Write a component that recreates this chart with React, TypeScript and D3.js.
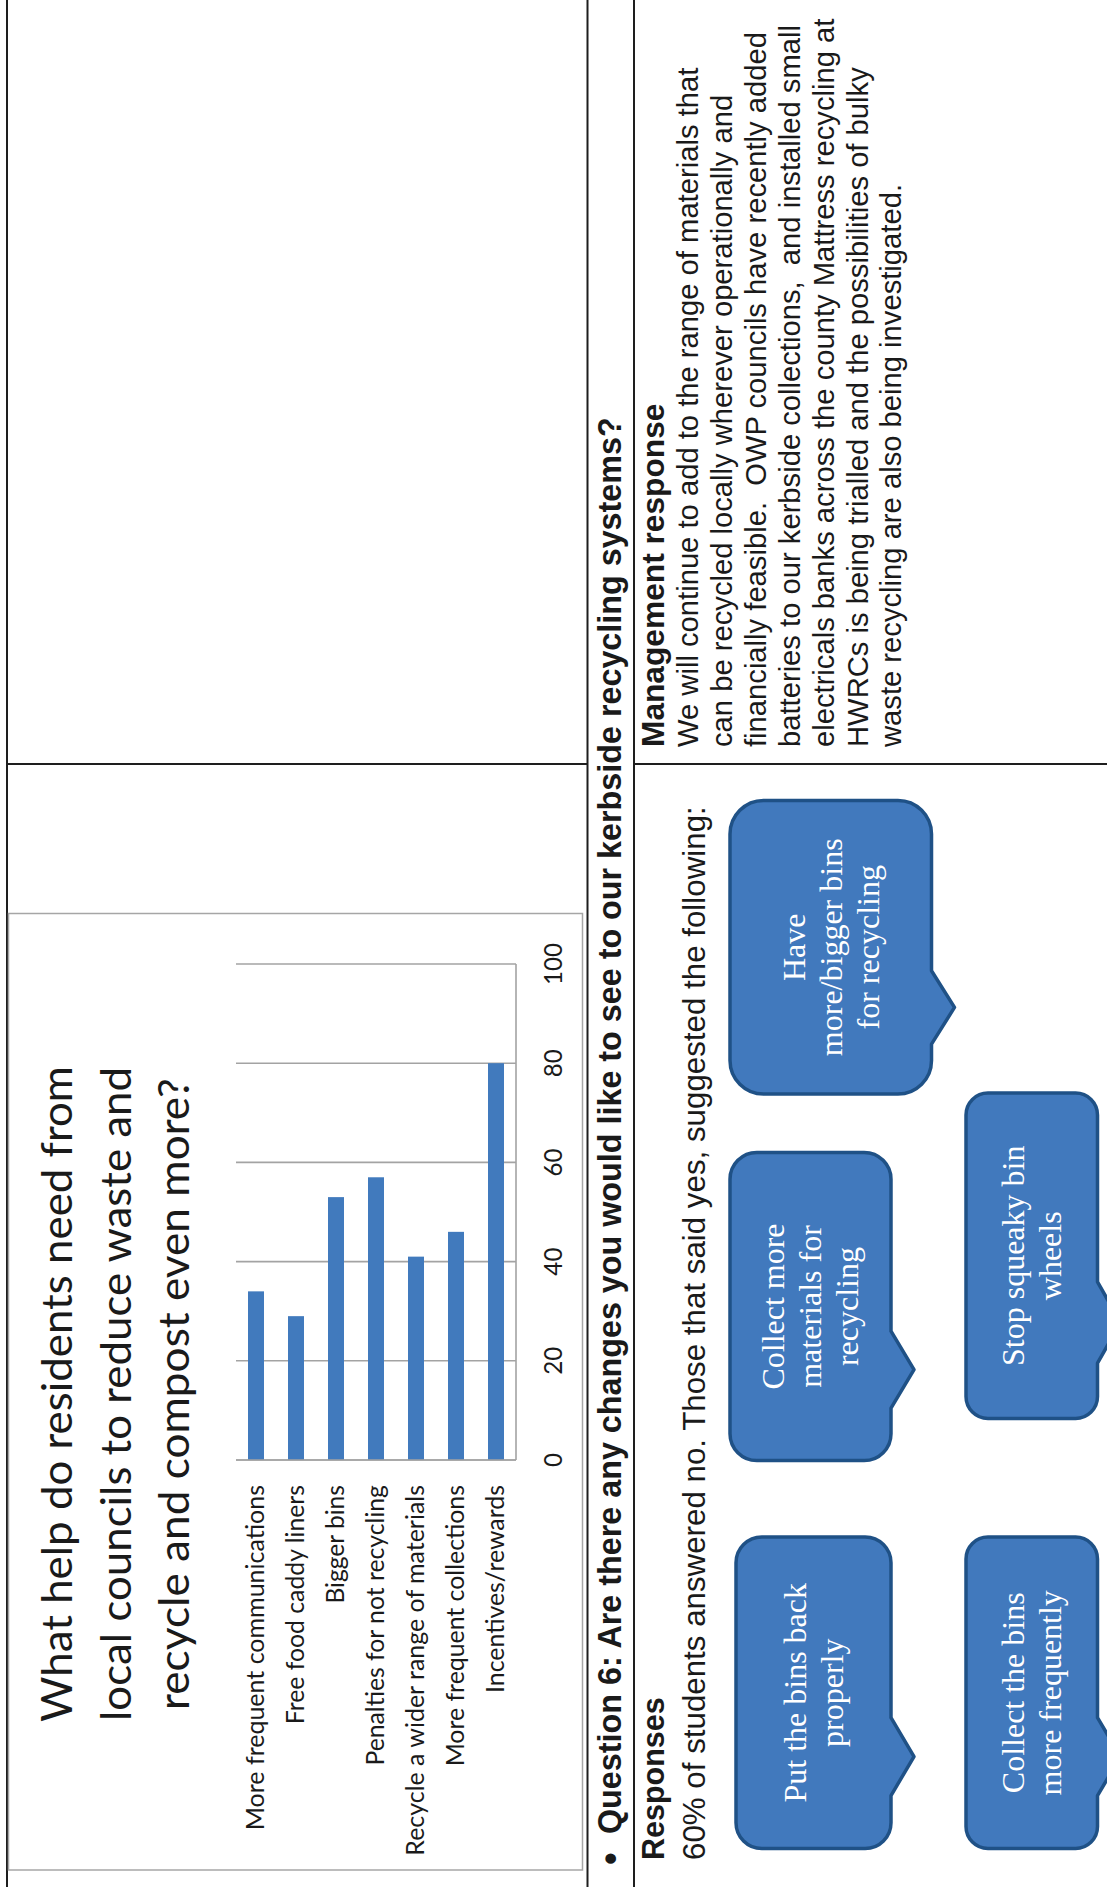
import React from "react";
import * as d3 from "d3";

// ---------- data ----------
const categories = [
  "More frequent communications",
  "Free food caddy liners",
  "Bigger bins",
  "Penalties for not recycling",
  "Recycle a wider range of materials",
  "More frequent collections",
  "Incentives/rewards",
];
const values = [34, 29, 53, 57, 41, 46, 80];
const valueTicks = [0, 20, 40, 60, 80, 100];
const titleLines = [
  "What help do residents need from",
  "local councils to reduce waste and",
  "recycle and compost even more?",
];
const questionText =
  "Question 6: Are there any changes you would like to see to our kerbside recycling systems?";
const responsesHeading = "Responses";
const responsesIntro =
  "60% of students answered no. Those that said yes, suggested the following:";
const managementHeading = "Management response";
const managementLines = [
  "We will continue to add to the range of materials that",
  "can be recycled locally wherever operationally and",
  "financially feasible.  OWP councils have recently added",
  "batteries to our kerbside collections,  and installed small",
  "electricals banks across the county Mattress recycling at",
  "HWRCs is being trialled and the possibilities of bulky",
  "waste recycling are also being investigated.",
];
const bubbleTexts = [
  ["Have", "more/bigger bins", "for recycling"],
  ["Collect more", "materials for", "recycling"],
  ["Put the bins back", "properly"],
  ["Stop squeaky bin", "wheels"],
  ["Collect the bins", "more frequently"],
];

// ---------- layout (page drawn unrotated, then turned -90deg) ----------
const PW = 1887; // unrotated width
const PH = 1107; // unrotated height

const bubbleBoxes = [
  { u0: 793, u1: 1086.5, v0: 730, v1: 931.5 },
  { u0: 426.5, u1: 734.5, v0: 730, v1: 891 },
  { u0: 38.5, u1: 350, v0: 736, v1: 891 },
  { u0: 468.5, u1: 794, v0: 966, v1: 1097.5 },
  { u0: 38.5, u1: 350, v0: 966, v1: 1097.5 },
];

// approximate Calibri advance widths (per 1000 em) to size the substitute font
const CAL: Record<string, number> = {
  " ": 226, a: 479, b: 525, c: 423, d: 525, e: 498, f: 305, g: 471, h: 525, i: 229,
  j: 239, k: 455, l: 229, m: 799, n: 525, o: 527, p: 525, q: 525, r: 349, s: 391,
  t: 335, u: 525, v: 452, w: 715, x: 433, y: 453, z: 395, M: 855, F: 459, B: 544,
  P: 517, R: 543, I: 252, W: 890, "/": 386, "?": 463,
};
const calibriLen = (s: string, size: number) =>
  s.split("").reduce((acc, ch) => acc + (CAL[ch] ?? 500), 0) * size / 1000;

const chartFont = "Lato, 'Open Sans', sans-serif";
const docFont = "'Liberation Sans', Arial, sans-serif";
const serifFont = "'Liberation Serif', 'Times New Roman', serif";

function bubblePath(b: { u0: number; u1: number; v0: number; v1: number }) {
  const w = b.u1 - b.u0;
  const h = b.v1 - b.v0;
  const r = Math.min(w, h) * 0.16667;
  const ta = b.u0 + 0.17 * w;
  const tb = b.u0 + 0.42 * w;
  const tip = b.u0 + 0.295 * w;
  const out = 23;
  const p = d3.path();
  p.moveTo(b.u0 + r, b.v0);
  p.lineTo(b.u1 - r, b.v0);
  p.arcTo(b.u1, b.v0, b.u1, b.v0 + r, r);
  p.lineTo(b.u1, b.v1 - r);
  p.arcTo(b.u1, b.v1, b.u1 - r, b.v1, r);
  p.lineTo(tb, b.v1);
  p.lineTo(tip, b.v1 + out);
  p.lineTo(ta, b.v1);
  p.lineTo(b.u0 + r, b.v1);
  p.arcTo(b.u0, b.v1, b.u0, b.v1 - r, r);
  p.lineTo(b.u0, b.v0 + r);
  p.arcTo(b.u0, b.v0, b.u0 + r, b.v0, r);
  p.closePath();
  return p.toString();
}

export default function App() {
  // chart scales
  const x = d3.scaleLinear().domain([0, 100]).range([427, 923]);
  const y = d3
    .scaleBand<string>()
    .domain(categories)
    .range([236, 516])
    .paddingInner(0.6)
    .paddingOuter(0.3);
  const plotTop = 236;
  const plotBottom = 516;

  const lineColor = "#1e1e1e";
  const gridColor = "#a3a3a3";
  const barColor = "#417abd";

  const titleCalSize = 47;
  const labelCalSize = 26.6;

  return (
    <svg
      width={1107}
      height={1887}
      style={{ position: "absolute", left: 0, top: 0, display: "block" }}
    >
      <rect x={0} y={0} width={1107} height={1887} fill="#ffffff" />
      <g transform={`translate(0,${PW}) rotate(-90)`}>
        {/* table rules */}
        <line x1={0} x2={PW} y1={7} y2={7} stroke={lineColor} strokeWidth={2} />
        <line x1={0} x2={PW} y1={587.5} y2={587.5} stroke={lineColor} strokeWidth={2} />
        <line x1={0} x2={PW} y1={634} y2={634} stroke={lineColor} strokeWidth={2} />
        <line x1={1123} x2={1123} y1={7} y2={587.5} stroke={lineColor} strokeWidth={2} />
        <line x1={1123} x2={1123} y1={634} y2={PH} stroke={lineColor} strokeWidth={2} />

        {/* chart frame */}
        <rect x={17} y={8.5} width={956.5} height={574} fill="none" stroke="#a6a6a6" strokeWidth={1.5} />

        {/* title */}
        {titleLines.map((t, i) => (
          <text
            key={t}
            x={493}
            y={72 + i * 58.5}
            textAnchor="middle"
            fontFamily={chartFont}
            fontSize={42.6}
            fill="#1a1a1a"
            textLength={calibriLen(t, titleCalSize)}
            lengthAdjust="spacingAndGlyphs"
          >
            {t}
          </text>
        ))}

        {/* gridlines */}
        {valueTicks.map((t) => (
          <line
            key={"g" + t}
            x1={x(t)}
            x2={x(t)}
            y1={plotTop}
            y2={plotBottom}
            stroke={gridColor}
            strokeWidth={1.6}
          />
        ))}
        {/* value axis line */}
        <line x1={x(0)} x2={x(100)} y1={plotBottom} y2={plotBottom} stroke={gridColor} strokeWidth={1.6} />

        {/* bars */}
        {categories.map((c, i) => (
          <rect
            key={c}
            x={x(0)}
            y={y(c)}
            width={x(values[i]) - x(0)}
            height={y.bandwidth()}
            fill={barColor}
          />
        ))}
        {/* category axis line */}
        <line x1={x(0)} x2={x(0)} y1={plotTop} y2={plotBottom} stroke={gridColor} strokeWidth={1.6} />

        {/* value tick labels */}
        {valueTicks.map((t) => (
          <text
            key={"t" + t}
            x={x(t)}
            y={562}
            textAnchor="middle"
            fontFamily={chartFont}
            fontSize={24.2}
            fill="#1a1a1a"
          >
            {t}
          </text>
        ))}

        {/* category labels */}
        {categories.map((c) => (
          <text
            key={"l" + c}
            x={402}
            y={(y(c) as number) + y.bandwidth() / 2 + 7.5}
            textAnchor="end"
            fontFamily={chartFont}
            fontSize={24.2}
            fill="#1a1a1a"
            textLength={calibriLen(c, labelCalSize)}
            lengthAdjust="spacingAndGlyphs"
          >
            {c}
          </text>
        ))}

        {/* question row */}
        <text x={22} y={623} fontFamily={docFont} fontSize={36} fontWeight="bold" fill="#1a1a1a">
          •
        </text>
        <text
          x={53}
          y={621}
          fontFamily={docFont}
          fontSize={32.3}
          fontWeight="bold"
          fill="#1a1a1a"
          style={{ whiteSpace: "pre" }}
        >
          {questionText}
        </text>

        {/* responses cell */}
        <text x={27} y={663.5} fontFamily={docFont} fontSize={30.5} fontWeight="bold" fill="#1a1a1a">
          {responsesHeading}
        </text>
        <text x={27} y={705} fontFamily={docFont} fontSize={31.3} fill="#1a1a1a" style={{ whiteSpace: "pre" }}>
          {responsesIntro}
        </text>

        {/* management response cell */}
        <text x={1140} y={664} fontFamily={docFont} fontSize={31.7} fontWeight="bold" fill="#1a1a1a">
          {managementHeading}
        </text>
        {managementLines.map((l, i) => (
          <text
            key={"m" + i}
            x={1140}
            y={698 + i * 33.9}
            fontFamily={docFont}
            fontSize={29.2}
            fill="#1a1a1a"
            style={{ whiteSpace: "pre" }}
          >
            {l}
          </text>
        ))}

        {/* speech bubbles */}
        {bubbleBoxes.map((b, i) => {
          const lines = bubbleTexts[i];
          const uc = (b.u0 + b.u1) / 2;
          const vc = (b.v0 + b.v1) / 2;
          const lh = 37;
          return (
            <g key={"b" + i}>
              <path d={bubblePath(b)} fill="#4179bd" stroke="#1f5186" strokeWidth={3.5} strokeLinejoin="round" />
              {lines.map((t, j) => (
                <text
                  key={t}
                  x={uc}
                  y={vc + (j - (lines.length - 1) / 2) * lh + 10.8}
                  textAnchor="middle"
                  fontFamily={serifFont}
                  fontSize={32}
                  fill="#ffffff"
                >
                  {t}
                </text>
              ))}
            </g>
          );
        })}
      </g>
    </svg>
  );
}
